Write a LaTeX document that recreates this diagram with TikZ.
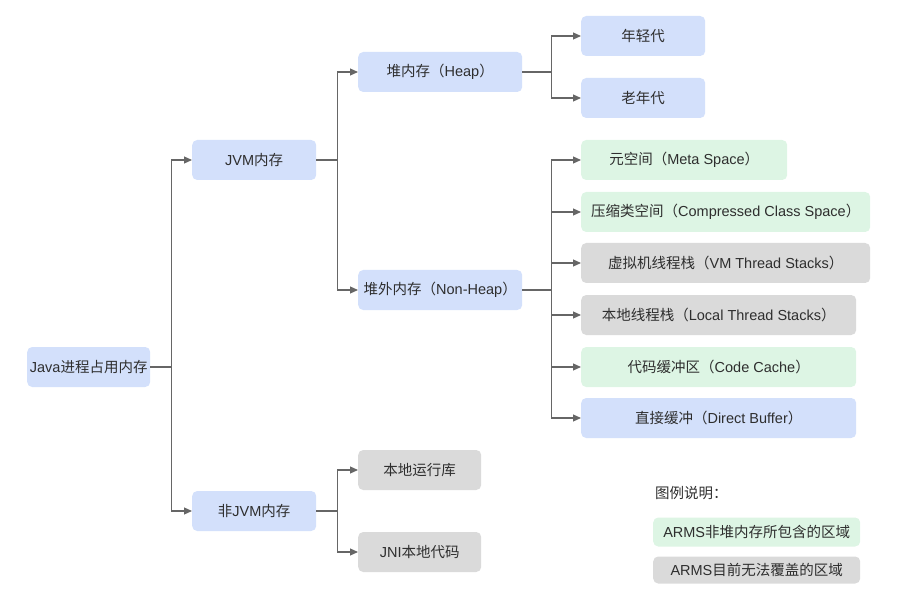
\documentclass[tikz,border=0pt]{standalone}
\usepackage{fontspec}
\setmainfont{Noto Sans CJK SC}
\newfontfamily\latfont{Liberation Sans}
\newcommand{\lt}[1]{{\latfont #1}}
\usetikzlibrary{arrows.meta}
\definecolor{bluebox}{HTML}{D3E0FB}
\definecolor{greenbox}{HTML}{DDF5E4}
\definecolor{graybox}{HTML}{DADADA}
\definecolor{linec}{HTML}{666666}
\definecolor{textc}{HTML}{2E2E2E}
\tikzset{
  box/.style={rounded corners=5pt, minimum height=40pt, inner sep=1pt, font=\fontsize{14.5}{16}\selectfont, text=textc, anchor=west},
  bbox/.style={box, fill=bluebox},
  gbox/.style={box, fill=greenbox},
  ybox/.style={box, fill=graybox},
  conn/.style={draw=linec, line width=1.1pt, -{Triangle[length=8pt,width=7pt]}},
  plain/.style={draw=linec, line width=1.1pt},
}
\begin{document}
\begin{tikzpicture}[x=1pt,y=-1pt]
\useasboundingbox (0,0) rectangle (901,609);
\node[bbox, minimum width=123pt] (java) at (27,367) {\lt{Java}进程占用内存};
\node[bbox, minimum width=124pt] (jvm) at (192,160) {\lt{JVM}内存};
\node[bbox, minimum width=124pt] (njvm) at (192,511) {非\lt{JVM}内存};
\node[bbox, minimum width=164pt] (heap) at (358,72) {堆内存（\lt{Heap}）};
\node[bbox, minimum width=164pt] (nheap) at (358,290) {堆外内存（\lt{Non-Heap}）};
\node[bbox, minimum width=124pt] (young) at (581,36) {年轻代};
\node[bbox, minimum width=124pt] (old) at (581,98) {老年代};
\node[gbox, minimum width=206pt] (meta) at (581,160) {元空间（\lt{Meta Space}）};
\node[gbox, minimum width=289pt] (ccs) at (581,212) {压缩类空间（\lt{Compressed Class Space}）};
\node[ybox, minimum width=289pt] (vmts) at (581,263) {虚拟机线程栈（\lt{VM Thread Stacks}）};
\node[ybox, minimum width=275pt] (lts) at (581,315) {本地线程栈（\lt{Local Thread Stacks}）};
\node[gbox, minimum width=275pt] (cc) at (581,367) {代码缓冲区（\lt{Code Cache}）};
\node[bbox, minimum width=275pt] (db) at (581,418) {直接缓冲（\lt{Direct Buffer}）};
\node[ybox, minimum width=123pt] (nlib) at (358,470) {本地运行库};
\node[ybox, minimum width=123pt] (jni) at (358,552) {\lt{JNI}本地代码};
\node[anchor=west, inner sep=0pt, font=\fontsize{14.5}{16}\selectfont, text=textc] (legt) at (655,493) {图例说明：};
\node[gbox, minimum width=207pt, minimum height=29pt] (lg) at (653,532) {\lt{ARMS}非堆内存所包含的区域};
\node[ybox, minimum width=207pt, minimum height=27pt] (ly) at (653,570) {\lt{ARMS}目前无法覆盖的区域};
% connectors
\draw[plain] (java.east) -- ++(21,0) coordinate (b1);
\draw[conn] (b1) |- (jvm.west);
\draw[conn] (b1) |- (njvm.west);
\draw[plain] (jvm.east) -- ++(21,0) coordinate (b2);
\draw[conn] (b2) |- (heap.west);
\draw[conn] (b2) |- (nheap.west);
\draw[plain] (heap.east) -- ++(29,0) coordinate (b3);
\draw[conn] (b3) |- (young.west);
\draw[conn] (b3) |- (old.west);
\draw[plain] (nheap.east) -- ++(29,0) coordinate (b4);
\foreach \n in {meta,ccs,vmts,lts,cc,db} \draw[conn] (b4) |- (\n.west);
\draw[plain] (njvm.east) -- ++(21,0) coordinate (b5);
\draw[conn] (b5) |- (nlib.west);
\draw[conn] (b5) |- (jni.west);
\end{tikzpicture}
\end{document}
